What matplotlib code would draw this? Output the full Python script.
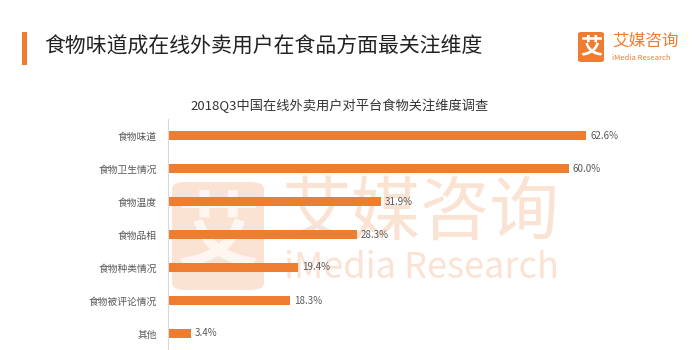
import matplotlib.pyplot as plt
from matplotlib.patches import Rectangle, FancyBboxPatch

plt.rcParams['font.family'] = ['Noto Sans CJK SC', 'DejaVu Sans']

# data
categories = ["食物味道", "食物卫生情况", "食物温度", "食物品相",
              "食物种类情况", "食物被评论情况", "其他"]
values = [62.6, 60.0, 31.9, 28.3, 19.4, 18.3, 3.4]

title = "食物味道成在线外卖用户在食品方面最关注维度"
subtitle = "2018Q3中国在线外卖用户对平台食物关注维度调查"

orange = "#ED7D31"
W, H = 699, 350

fig = plt.figure(figsize=(W / 100, H / 100), dpi=100)
fig.patch.set_facecolor("white")

# watermark (background, behind the axes)
wm = "#FBE3D4"
fig.patches.append(FancyBboxPatch((172 / W, 1 - 290 / H), 92 / W, 108 / H,
                                  boxstyle="round,pad=0,rounding_size=0.02",
                                  transform=fig.transFigure, fc=wm, ec="none",
                                  zorder=-5))
fig.text(218 / W, 1 - 236 / H, "艾", fontsize=60, color="#FFF6F0", ha="center",
         va="center", fontweight="bold", zorder=-4)
fig.text(282 / W, 1 - 214 / H, "艾媒咨询", fontsize=50, color=wm, ha="left",
         va="center", zorder=-4)
fig.text(284 / W, 1 - 268 / H, "iMedia Research", fontsize=26, color=wm,
         ha="left", va="center", zorder=-4)

# header
fig.patches.append(Rectangle((22 / W, 1 - 65 / H), 5 / W, 33 / H,
                             transform=fig.transFigure, fc=orange, ec="none"))
fig.text(44 / W, 1 - 47 / H, title, fontsize=15, color="#222222",
         ha="left", va="center", fontweight="medium")

# logo
fig.patches.append(FancyBboxPatch((578 / W, 1 - 62 / H), 26 / W, 30 / H,
                                  boxstyle="round,pad=0,rounding_size=0.005",
                                  transform=fig.transFigure, fc=orange, ec="none"))
fig.text(591 / W, 1 - 47 / H, "艾", fontsize=16, color="white", ha="center",
         va="center", fontweight="bold")
fig.text(612 / W, 1 - 41 / H, "艾媒咨询", fontsize=12, color=orange,
         ha="left", va="center")
fig.text(612 / W, 1 - 58 / H, "iMedia Research", fontsize=5.5, color=orange,
         ha="left", va="center")

fig.text(340 / W, 1 - 106 / H, subtitle, fontsize=9.5, color="#333333",
         ha="center", va="center", fontweight="medium")

# bars
ax = fig.add_axes([168 / W, 0, 467.6 / W, 231 / H])
ax.set_zorder(2)
ax.set_facecolor("none")
ypos = list(range(len(categories)))
ax.barh(ypos, values, height=0.28, color=orange, zorder=2)
for y, v in zip(ypos, values):
    ax.text(v + 0.6, y, f"{v:.1f}%", va="center", ha="left", fontsize=7,
            color="#595959")

ax.set_xlim(0, 70)
ax.set_ylim(6.5, -0.5)
ax.set_yticks(ypos)
ax.set_yticklabels(categories, fontsize=7, color="#595959")
ax.tick_params(axis="y", length=0, pad=8)
ax.set_xticks([])
for s in ["top", "right", "bottom"]:
    ax.spines[s].set_visible(False)
ax.spines["left"].set_color("#D9D9D9")
ax.spines["left"].set_linewidth(0.8)

fig.savefig("out.png", dpi=100, facecolor="white")
